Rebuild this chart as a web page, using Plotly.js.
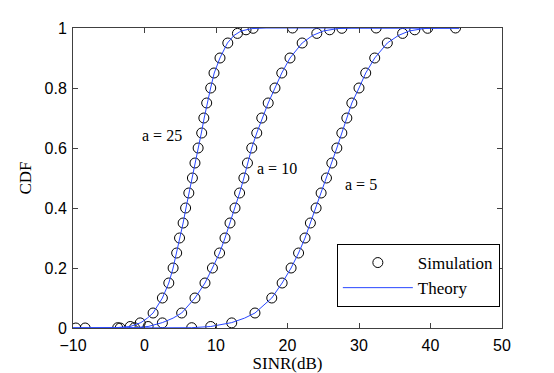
<!DOCTYPE html>
<html>
<head>
<meta charset="utf-8">
<script src="https://cdn.plot.ly/plotly-3.0.1.min.js"></script>
<style>
  body { margin: 0; background: #fff; }
  #myDiv { width: 554px; height: 373px; }
</style>
</head>
<body>
<div id="myDiv"></div>
<script>
// simulation points (CDF levels shared by all three curves)
var simLevels = [0, 0.001, 0.005, 0.017, 0.05, 0.1, 0.15, 0.2, 0.25, 0.3, 0.35, 0.4, 0.45, 0.5,
  0.55, 0.6, 0.65, 0.7, 0.75, 0.8, 0.85, 0.9, 0.95, 0.982, 0.994, 0.999, 1];
var simX25 = [-9.6, -3.75, -2.0, -0.6, 1.2, 2.5, 3.4, 4.0, 4.5, 4.9, 5.4, 5.75, 6.2, 6.7,
  7.06, 7.5, 8.0, 8.3, 8.7, 9.26, 9.72, 10.56, 11.65, 13.0, 14.2, 15.2, 20.7];
var simX10 = [-8.3, -1.4, 0.5, 2.5, 5.2, 7.06, 8.46, 9.5, 10.5, 11.26, 11.96, 12.66, 13.3, 13.9,
  14.4, 15.0, 15.7, 16.4, 17.3, 18.25, 19.2, 20.35, 22.05, 24.1, 25.9, 27.6, 32.4];
var simX5 = [-3.4, 6.6, 9.26, 12.2, 15.45, 17.8, 19.25, 20.5, 21.55, 22.45, 23.2, 24.0, 24.7, 25.45,
  26.2, 26.9, 27.6, 28.3, 29.0, 30.0, 30.94, 32.2, 33.96, 36.1, 37.8, 39.6, 43.5];

// theory curves
var thLevels = [0, 0, 0.001, 0.005, 0.018, 0.033, 0.05, 0.1, 0.15, 0.2, 0.25, 0.3, 0.35, 0.4, 0.45,
  0.5, 0.55, 0.6, 0.65, 0.7, 0.75, 0.8, 0.85, 0.9, 0.95, 0.975, 0.99, 0.998, 1, 1];
var thX25 = [-10, -6, -4, -2, -0.5, 0.4, 1.2, 2.5, 3.4, 4.0, 4.5, 4.95, 5.4, 5.8, 6.25,
  6.7, 7.1, 7.5, 7.95, 8.35, 8.75, 9.25, 9.75, 10.55, 11.6, 12.5, 13.5, 15, 17, 44];
var thX10 = [-10, -4, -1.5, 0.5, 2.5, 4.0, 5.2, 7.06, 8.46, 9.5, 10.5, 11.26, 11.96, 12.66, 13.3,
  13.9, 14.45, 15.0, 15.7, 16.45, 17.3, 18.25, 19.2, 20.35, 22.05, 23.5, 25, 27, 29, 44];
var thX5 = [-10, 2, 6.6, 9.26, 12.2, 14, 15.45, 17.8, 19.25, 20.5, 21.55, 22.45, 23.2, 24.0, 24.7,
  25.45, 26.2, 26.9, 27.6, 28.3, 29.0, 30.0, 30.94, 32.2, 33.96, 35.5, 37, 39, 41, 44];

var labels = ['a = 25', 'a = 10', 'a = 5'];
var labelX = [2.45, 18.5, 30.3];
var labelY = [0.643, 0.533, 0.477];

var blue = 'rgb(40, 70, 255)';
var serif = 'Liberation Serif, Times New Roman, serif';

function simTrace(xs, first) {
  return {
    x: xs, y: simLevels, mode: 'markers', type: 'scatter',
    name: 'Simulation', legendgroup: 'sim', showlegend: first,
    marker: {symbol: 'circle-open', size: 10, color: '#000', line: {width: 1, color: '#000'}}
  };
}
function thTrace(xs, first) {
  return {
    x: xs, y: thLevels, mode: 'lines', type: 'scatter',
    name: 'Theory', legendgroup: 'th', showlegend: first,
    line: {color: blue, width: 1}
  };
}

var data = [
  simTrace(simX25, true), simTrace(simX10, false), simTrace(simX5, false),
  thTrace(thX25, true), thTrace(thX10, false), thTrace(thX5, false)
];

var annotations = labels.map(function (t, i) {
  return {x: labelX[i], y: labelY[i], text: t, showarrow: false,
    font: {family: serif, size: 16, color: '#000'}};
});

var axisCommon = {
  showgrid: false, zeroline: false, showline: true, mirror: 'ticks',
  linecolor: '#404040', linewidth: 1, ticks: 'inside', ticklen: 5, tickcolor: '#404040',
  tickfont: {family: 'Liberation Sans, Arial, sans-serif', size: 16, color: '#000'}
};

var layout = {
  width: 554, height: 373,
  margin: {l: 73, r: 52, t: 28, b: 45},
  paper_bgcolor: '#fff', plot_bgcolor: '#fff',
  xaxis: Object.assign({}, axisCommon, {
    range: [-10, 50], tickvals: [-10, 0, 10, 20, 30, 40, 50], ticklabelstandoff: 3,
    title: {text: 'SINR(dB)', font: {family: serif, size: 17, color: '#000'}, standoff: 0}
  }),
  yaxis: Object.assign({}, axisCommon, {
    range: [0, 1], tickvals: [0, 0.2, 0.4, 0.6, 0.8, 1], ticklabelstandoff: 2,
    title: {text: 'CDF', font: {family: serif, size: 17, color: '#000'}, standoff: 8}
  }),
  legend: {
    x: 0.995, y: 0.07, xanchor: 'right', yanchor: 'bottom',
    bgcolor: '#fff', bordercolor: '#000', borderwidth: 1, tracegroupgap: 0,
    itemwidth: 70,
    font: {family: serif, size: 17, color: '#000'}
  },
  annotations: annotations
};

Plotly.newPlot('myDiv', data, layout, {displayModeBar: false});
</script>
</body>
</html>
